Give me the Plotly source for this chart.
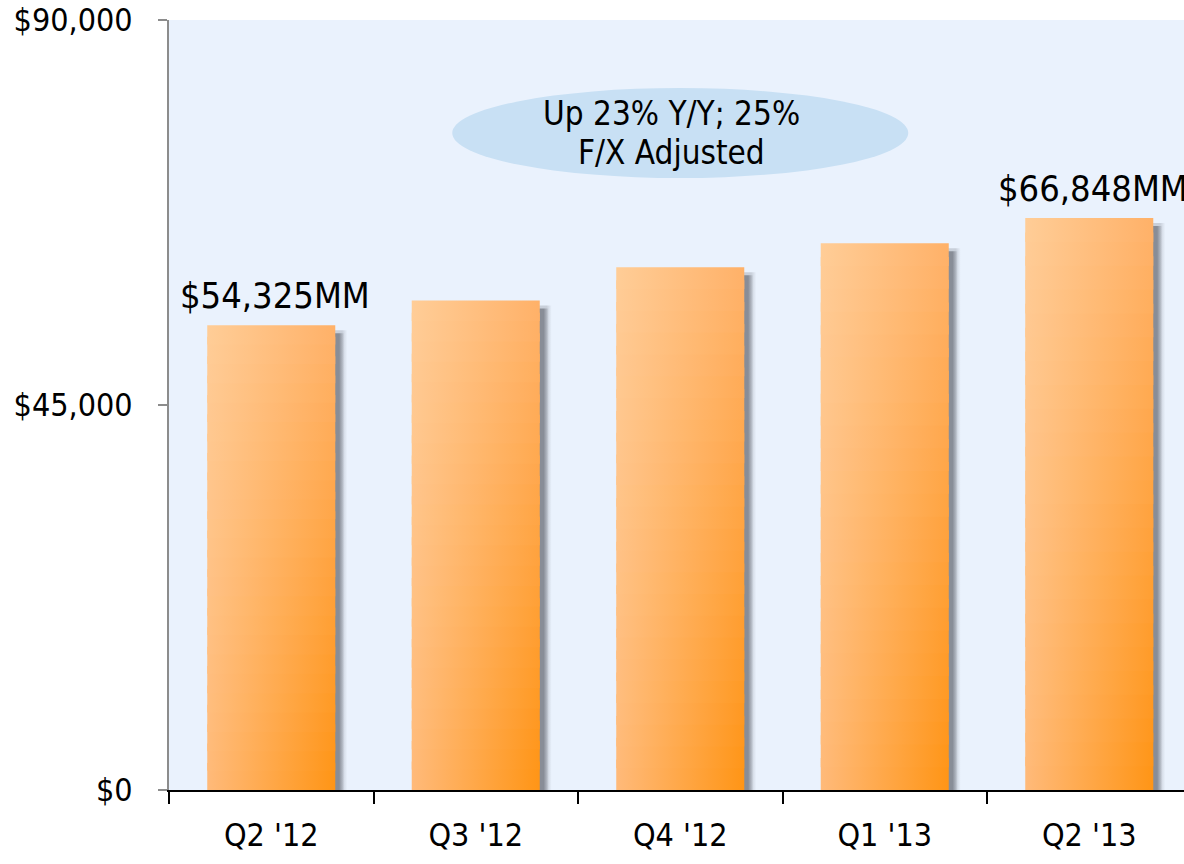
import plotly.graph_objects as go

# ---- data ----
categories = ["Q2 '12", "Q3 '12", "Q4 '12", "Q1 '13", "Q2 '13"]
volumes = [54325, 57200, 61100, 63900, 66848]
value_labels = ["$54,325MM", "", "", "", "$66,848MM"]
y_tickvals = [0, 45000, 90000]
y_ticktext = ["$0", "$45,000", "$90,000"]
callout_lines = ["Up 23% Y/Y; 25%", "F/X Adjusted"]

# ---- geometry / style ----
W, H = 1184, 864
ML, MT, MB, MR = 169, 20, 864 - 790, 0
plot_w = W - ML - MR
plot_h = H - MT - MB
cat_px = 204.5
x_range = [-0.5, -0.5 + plot_w / cat_px]
y_max = 90000
px_x = 1.0 / cat_px
px_y = y_max / plot_h
half = 0.313
FONT = "DejaVu Sans Condensed"

TL = (255, 205, 152)
TR = (255, 178, 106)
BL = (255, 186, 121)
BR = (255, 148, 20)


def lerp(a, b, t):
    return tuple(round(a[i] + (b[i] - a[i]) * t) for i in range(3))


def rgb(c):
    return "rgb(%d,%d,%d)" % c


fig = go.Figure()

# shadows (soft outer + core)
for extra, col in [(3, "rgba(138,143,153,0.35)"), (0, "rgb(136,141,151)")]:
    sdx = (9 + extra) * px_x
    sdy = (8 - extra) * px_y
    for i, v in enumerate(volumes):
        x0, x1 = i - half + sdx, i + half + sdx
        fig.add_trace(go.Scatter(
            x=[x0, x1, x1, x0, x0], y=[0, 0, v - sdy, v - sdy, 0],
            mode="lines", fill="toself", line=dict(width=0, color="rgba(0,0,0,0)"),
            fillgradient=dict(type="horizontal",
                              colorscale=[[0, col], [0.96, col],
                                          [1, "rgba(138,143,153,0)"]]),
            hoverinfo="skip", showlegend=False))

# bars as gradient bands
N = 24
for i, v in enumerate(volumes):
    x0, x1 = i - half, i + half
    for k in range(N):
        y0 = v * k / N
        y1 = v * (k + 1) / N
        if k < N - 1:
            y1 += v * 0.4 / N
        t = 1 - (k + 0.5) / N
        cl = lerp(TL, BL, t)
        cr = lerp(TR, BR, t)
        fig.add_trace(go.Scatter(
            x=[x0, x1, x1, x0, x0], y=[y0, y0, y1, y1, y0],
            mode="lines", fill="toself", line=dict(width=0, color="rgba(0,0,0,0)"),
            fillgradient=dict(type="horizontal", colorscale=[[0, rgb(cl)], [1, rgb(cr)]]),
            hoverinfo="skip", showlegend=False))

# value labels
for i, (v, lab) in enumerate(zip(volumes, value_labels)):
    if lab:
        fig.add_annotation(x=i - 0.455, y=v, text=lab, showarrow=False,
                           xanchor="left", yanchor="middle", yshift=30,
                           font=dict(family=FONT, size=36, color="black"))

# callout ellipse
ecx = 2.0
ecy = (790 - 133) * px_y
fig.add_shape(type="circle", xref="x", yref="y", layer="below",
              x0=ecx - 228 * px_x, x1=ecx + 228 * px_x,
              y0=ecy - 45 * px_y, y1=ecy + 45 * px_y,
              fillcolor="#C8E0F4", line=dict(width=0))
for j, line in enumerate(callout_lines):
    fig.add_annotation(x=ecx, y=ecy, text=line, showarrow=False,
                       xanchor="center", yanchor="middle", xshift=-9,
                       yshift=20 - 39 * j,
                       font=dict(family=FONT, size=33, color="black"))

fig.update_layout(
    width=W, height=H,
    margin=dict(l=ML, r=MR, t=MT, b=MB, pad=0, autoexpand=False),
    paper_bgcolor="white", plot_bgcolor="#EAF2FD",
    showlegend=False,
    font=dict(family=FONT, color="black"),
    xaxis=dict(range=x_range, tickmode="array", tickvals=list(range(len(categories))),
               ticktext=categories, ticks="", showgrid=False, zeroline=False,
               showline=True, linecolor="black", linewidth=2, automargin=False,
               tickfont=dict(family=FONT, size=32, color="black"),
               ticklabelstandoff=16, ticklabeloverflow="allow",
               minor=dict(tickmode="array",
                          tickvals=[k - 0.5 for k in range(len(categories) + 1)],
                          ticks="outside", ticklen=12, tickwidth=2, tickcolor="black",
                          showgrid=False)),
    yaxis=dict(range=[0, y_max], tickmode="array", tickvals=y_tickvals, ticktext=y_ticktext,
               ticks="outside", ticklen=9, tickwidth=2, tickcolor="#8C8C8C",
               showline=True, linecolor="#8C8C8C", linewidth=2, automargin=False,
               showgrid=False, zeroline=False,
               tickfont=dict(family=FONT, size=32, color="black"),
               ticklabelstandoff=19, ticklabeloverflow="allow"),
)

fig.write_html("out.html", config={"displayModeBar": False},
               post_script="document.body.style.margin='0';document.body.style.overflow='hidden';")
